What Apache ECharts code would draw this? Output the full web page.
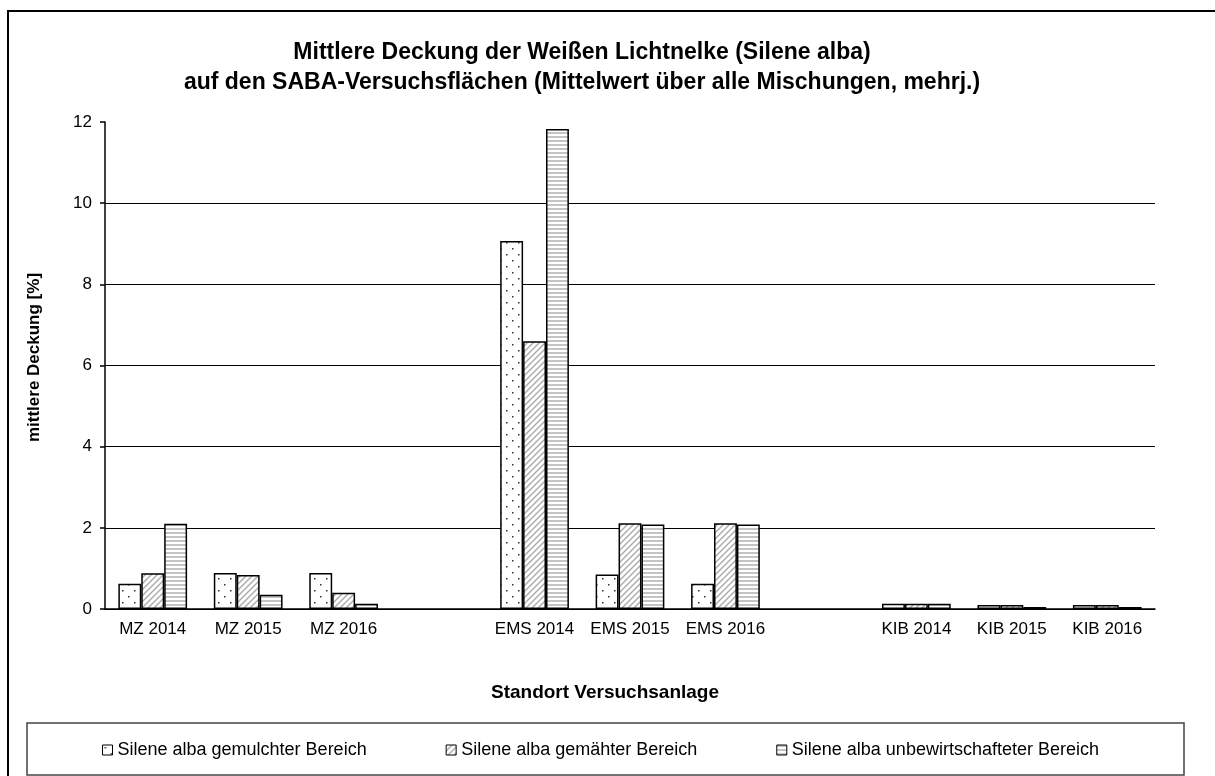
<!DOCTYPE html>
<html>
<head>
<meta charset="utf-8">
<script src="https://cdn.jsdelivr.net/npm/echarts@6/dist/echarts.min.js"></script>
<style>
  html, body { margin: 0; padding: 0; background: #fff; }
  #chart { width: 1215px; height: 776px; }
</style>
</head>
<body>
<div id="chart"></div>
<script>
// chart data
var categories = ['MZ 2014', 'MZ 2015', 'MZ 2016', '', 'EMS 2014', 'EMS 2015', 'EMS 2016', '', 'KIB 2014', 'KIB 2015', 'KIB 2016'];
var gemulcht = [0.62, 0.89, 0.89, null, 9.07, 0.85, 0.62, null, 0.13, 0.10, 0.10];
var gemaeht = [0.88, 0.84, 0.40, null, 6.60, 2.11, 2.11, null, 0.13, 0.10, 0.10];
var unbewirtschaftet = [2.10, 0.35, 0.13, null, 11.83, 2.08, 2.08, null, 0.13, 0.05, 0.05];
var seriesNames = ['Silene alba gemulchter Bereich', 'Silene alba gemähter Bereich', 'Silene alba unbewirtschafteter Bereich'];
var yTicks = [0, 2, 4, 6, 8, 10, 12];

var FONT = '"Liberation Sans", Arial, sans-serif';

// fill patterns (Excel style)
function makeTile(w, h, draw) {
    var c = document.createElement('canvas');
    c.width = w; c.height = h;
    var ctx = c.getContext('2d');
    ctx.fillStyle = '#fff';
    ctx.fillRect(0, 0, w, h);
    draw(ctx);
    return c;
}
var dots = makeTile(12, 12, function(ctx) {
    ctx.fillStyle = '#333';
    ctx.fillRect(2, 2, 1.5, 1.5);
    ctx.fillRect(8, 8, 1.5, 1.5);
});
var hatch = makeTile(6, 6, function(ctx) {
    ctx.strokeStyle = '#aaa';
    ctx.lineWidth = 1.4;
    ctx.beginPath();
    ctx.moveTo(-1, 7); ctx.lineTo(7, -1);
    ctx.moveTo(-1, 1); ctx.lineTo(1, -1);
    ctx.moveTo(5, 7); ctx.lineTo(7, 5);
    ctx.stroke();
});
var stripes = makeTile(4, 4, function(ctx) {
    ctx.fillStyle = '#c4c4c4';
    ctx.fillRect(0, 0, 4, 2);
});

var myChart = echarts.init(document.getElementById('chart'));

function barSeries(name, data, tile) {
    return {
        name: name,
        type: 'bar',
        data: data,
        barGap: '0%',
        barCategoryGap: '28%',
        itemStyle: {
            color: { image: tile, repeat: 'repeat' },
            borderColor: '#000',
            borderWidth: 1.5
        }
    };
}

var option = {
    animation: false,
    backgroundColor: '#fff',
    title: {
        text: 'Mittlere Deckung der Weißen Lichtnelke (Silene alba)\nauf den SABA-Versuchsflächen (Mittelwert über alle Mischungen, mehrj.)',
        left: 577,
        top: 33,
        textAlign: 'center',
        textStyle: {
            fontFamily: FONT,
            fontSize: 23,
            fontWeight: 'bold',
            color: '#000',
            lineHeight: 30
        }
    },
    legend: {
        top: 736,
        left: 97,
        itemWidth: 10,
        itemHeight: 10,
        itemGap: 79,
        icon: 'rect',
        itemStyle: { borderWidth: 1, borderColor: '#000' },
        textStyle: { fontFamily: FONT, fontSize: 18, color: '#000' },
        data: seriesNames
    },
    grid: {
        left: 105,
        top: 122,
        right: 60,
        bottom: 167
    },
    xAxis: {
        type: 'category',
        data: categories,
        name: 'Standort Versuchsanlage',
        nameLocation: 'middle',
        nameGap: 74,
        nameTextStyle: { fontFamily: FONT, fontSize: 19, fontWeight: 'bold', color: '#000', padding: [0, 50, 0, 0] },
        axisLine: { lineStyle: { color: '#000', width: 1.5 } },
        axisTick: { length: 6, lineStyle: { color: '#000', width: 1.5 } },
        axisLabel: { fontFamily: FONT, fontSize: 17, color: '#000', margin: 12, interval: 0 }
    },
    yAxis: {
        type: 'value',
        min: yTicks[0],
        max: yTicks[yTicks.length - 1],
        interval: 2,
        name: 'mittlere Deckung [%]',
        nameLocation: 'middle',
        nameGap: 62,
        nameRotate: 90,
        nameTextStyle: { fontFamily: FONT, fontSize: 17, fontWeight: 'bold', color: '#000', padding: [0, 0, 0, 16] },
        axisLine: { show: true, lineStyle: { color: '#000', width: 1.5 } },
        axisTick: { show: true, length: 5, lineStyle: { color: '#000', width: 1.5 } },
        axisLabel: { fontFamily: FONT, fontSize: 17, color: '#000', margin: 13 },
        splitLine: {
            show: true,
            lineStyle: { color: ['#000', '#000', '#000', '#000', '#000', '#000', 'rgba(0,0,0,0)'], width: 1.2 }
        }
    },
    graphic: [
        {
            type: 'rect',
            shape: { x: 8, y: 11, width: 1400, height: 900 },
            style: { fill: 'none', stroke: '#000', lineWidth: 2 },
            silent: true
        },
        {
            type: 'rect',
            shape: { x: 27, y: 723, width: 1157, height: 52 },
            style: { fill: 'none', stroke: '#444', lineWidth: 1.5 },
            silent: true
        }
    ],
    series: [
        barSeries(seriesNames[0], gemulcht, dots),
        barSeries(seriesNames[1], gemaeht, hatch),
        barSeries(seriesNames[2], unbewirtschaftet, stripes)
    ]
};
myChart.setOption(option);
</script>
</body>
</html>
